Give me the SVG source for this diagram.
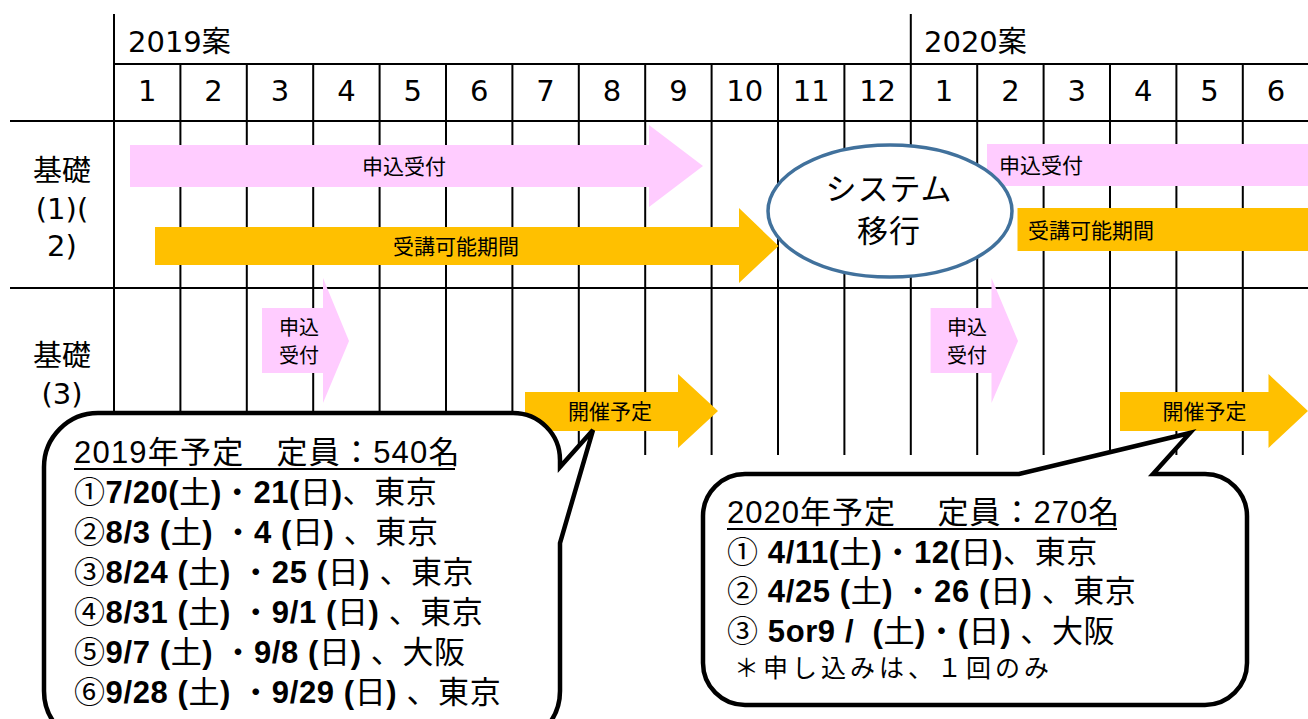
<svg xmlns="http://www.w3.org/2000/svg" width="1308" height="719" viewBox="0 0 1308 719">
<style>
text{font-family:"Noto Sans CJK JP","Noto Sans",sans-serif;fill:#000}
.g{stroke:#000;stroke-width:2;fill:none}
.hdr{font-family:"DejaVu Sans","Noto Sans CJK JP",sans-serif;font-size:29px;text-anchor:middle}
.yr{font-family:"DejaVu Sans","Noto Sans CJK JP",sans-serif;font-size:29px}
.rl{font-family:"DejaVu Sans","Noto Sans CJK JP",sans-serif;font-size:29px;text-anchor:middle}
.lbl{font-size:21px;text-anchor:middle}
.sm{font-size:20px;text-anchor:middle}
.lbs{font-size:21px;text-anchor:start}
.pink{fill:#FFCCFF}
.org{fill:#FFC000}
.ct{font-family:"Liberation Sans","Noto Sans CJK JP",sans-serif;font-size:31px}
.dl{letter-spacing:0.6px}
.nt{font-family:"Liberation Sans","Noto Sans CJK JP",sans-serif;font-size:25px;letter-spacing:4px}
.b{font-weight:bold}
.co{fill:#fff;stroke:#000;stroke-width:4.5;stroke-linejoin:miter}
.el{font-size:31px;text-anchor:middle;letter-spacing:1px}
</style>
<g id="grid">
<path class="g" d="M114,14V455M910.8,14V455M180.4,64V455M246.8,64V455M313.2,64V455M379.6,64V455M446,64V455M512.4,64V455M578.8,64V455M645.2,64V455M711.6,64V455M778,64V455M844.4,64V455M977.2,64V455M1043.6,64V455M1110,64V455M1176.4,64V455M1242.8,64V455"/>
<path class="g" stroke-width="2.5" d="M114,64H1308M10,121H1308M10,288H1308"/>
</g>
<g id="years">
<text class="yr" x="128" y="52">2019案</text>
<text class="yr" x="924" y="52">2020案</text>
</g>
<g id="months">
<text class="hdr" x="147.2" y="101">1</text>
<text class="hdr" x="213.6" y="101">2</text>
<text class="hdr" x="280" y="101">3</text>
<text class="hdr" x="346.4" y="101">4</text>
<text class="hdr" x="412.8" y="101">5</text>
<text class="hdr" x="479.2" y="101">6</text>
<text class="hdr" x="545.6" y="101">7</text>
<text class="hdr" x="612" y="101">8</text>
<text class="hdr" x="678.4" y="101">9</text>
<text class="hdr" x="744.8" y="101">10</text>
<text class="hdr" x="811.2" y="101">11</text>
<text class="hdr" x="877.6" y="101">12</text>
<text class="hdr" x="944" y="101">1</text>
<text class="hdr" x="1010.4" y="101">2</text>
<text class="hdr" x="1076.8" y="101">3</text>
<text class="hdr" x="1143.2" y="101">4</text>
<text class="hdr" x="1209.6" y="101">5</text>
<text class="hdr" x="1276" y="101">6</text>
</g>
<g id="row1-label">
<text class="rl" x="62" y="181">基礎</text>
<text class="rl" x="62" y="219">(1)(</text>
<text class="rl" x="62" y="256">2)</text>
</g>
<g id="row2-label">
<text class="rl" x="62" y="366">基礎</text>
<text class="rl" x="62" y="404">(3)</text>
</g>
<g id="apply-2019">
<path class="pink" d="M130,145H649V125L703,166L649,207V187H130Z"/>
<text class="lbl" x="404" y="174">申込受付</text>
</g>
<g id="period-2019">
<path class="org" d="M155,227H739V208L778.5,246L739,283V265H155Z"/>
<text class="lbl" x="456" y="254">受講可能期間</text>
</g>
<g id="apply-2020">
<rect class="pink" x="987" y="144" width="321" height="42"/>
<text class="lbs" x="999" y="173">申込受付</text>
</g>
<g id="period-2020">
<rect class="org" x="1017.5" y="208" width="291" height="43"/>
<text class="lbs" x="1028" y="238">受講可能期間</text>
</g>
<g id="system-migration">
<ellipse cx="890" cy="211" rx="122" ry="66" fill="#fff" stroke="#41719C" stroke-width="3.5"/>
<text class="el" x="889" y="200">システム</text>
<text class="el" x="889" y="242">移行</text>
</g>
<g id="apply3-2019">
<path class="pink" d="M262,308H323V278L349,341L323,403V373H262Z"/>
<text class="sm" x="299" y="335">申込</text>
<text class="sm" x="299" y="363">受付</text>
</g>
<g id="apply3-2020">
<path class="pink" d="M930.6,308H991.5V278L1018,341L991.5,403V373H930.6Z"/>
<text class="sm" x="967" y="335">申込</text>
<text class="sm" x="967" y="363">受付</text>
</g>
<g id="event-2019">
<path class="org" d="M525,392H678V374L718,411L678,448V431H525Z"/>
<text class="lbl" x="610" y="419">開催予定</text>
</g>
<g id="event-2020">
<path class="org" d="M1120,392H1268.5V374L1308,411L1268.5,448V431H1120Z"/>
<text class="lbl" x="1204.5" y="419">開催予定</text>
</g>
<g id="callout-2019">
<path class="co" d="M98,413H513A47,47 0 0 1 560,460V467L593,430L560,543V691A54,54 0 0 1 506,745H98A54,54 0 0 1 44,691V467A54,54 0 0 1 98,413Z"/>
<text class="ct" x="74" y="463" style="letter-spacing:1.2px">2019年予定　定員：540名</text>
<line x1="74" y1="469" x2="455" y2="469" stroke="#000" stroke-width="1.8"/>
<text class="ct dl" x="74" y="503">①<tspan class="b">7/20(</tspan>土<tspan class="b">)</tspan>・<tspan class="b">21(</tspan>日<tspan class="b">)</tspan>、東京</text>
<text class="ct dl" x="74" y="543">②<tspan class="b">8/3 (</tspan>土<tspan class="b">) </tspan>・<tspan class="b">4 (</tspan>日<tspan class="b">) </tspan>、東京</text>
<text class="ct dl" x="74" y="583">③<tspan class="b">8/24 (</tspan>土<tspan class="b">) </tspan>・<tspan class="b">25 (</tspan>日<tspan class="b">) </tspan>、東京</text>
<text class="ct dl" x="74" y="623">④<tspan class="b">8/31 (</tspan>土<tspan class="b">) </tspan>・<tspan class="b">9/1 (</tspan>日<tspan class="b">) </tspan>、東京</text>
<text class="ct dl" x="74" y="663">⑤<tspan class="b">9/7 (</tspan>土<tspan class="b">) </tspan>・<tspan class="b">9/8 (</tspan>日<tspan class="b">) </tspan>、大阪</text>
<text class="ct dl" x="74" y="703">⑥<tspan class="b">9/28 (</tspan>土<tspan class="b">) </tspan>・<tspan class="b">9/29 (</tspan>日<tspan class="b">) </tspan>、東京</text>
</g>
<g id="callout-2020">
<path class="co" d="M745,474H1019L1190,433L1153,474H1205A42,42 0 0 1 1247,516V663A42,42 0 0 1 1205,705H745A42,42 0 0 1 703,663V516A42,42 0 0 1 745,474Z"/>
<text class="ct" x="727" y="523" style="letter-spacing:1px">2020年予定　 定員：270名</text>
<line x1="727" y1="529" x2="1117" y2="529" stroke="#000" stroke-width="1.8"/>
<text class="ct dl" x="727" y="563">① <tspan class="b">4/11(</tspan>土<tspan class="b">)</tspan>・<tspan class="b">12(</tspan>日<tspan class="b">)</tspan>、東京</text>
<text class="ct dl" x="727" y="602">② <tspan class="b">4/25 (</tspan>土<tspan class="b">) </tspan>・<tspan class="b">26 (</tspan>日<tspan class="b">) </tspan>、東京</text>
<text class="ct dl" x="727" y="642" xml:space="preserve">③ <tspan class="b">5or9 /  (</tspan>土<tspan class="b">)</tspan>・<tspan class="b">(</tspan>日<tspan class="b">) </tspan>、大阪</text>
<text class="nt" x="734" y="677">＊申し込みは、１回のみ</text>
</g>
</svg>
